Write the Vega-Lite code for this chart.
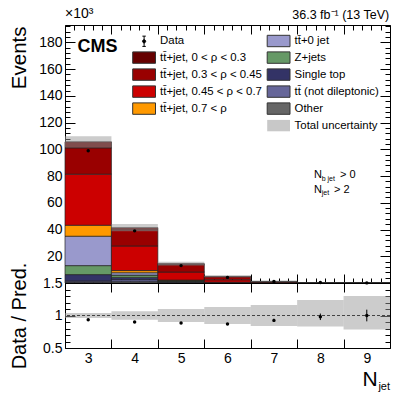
{
  "$schema": "https://vega.github.io/schema/vega-lite/v6.json",
  "autosize": {"type": "pad"},
  "padding": {"left": 8, "top": 6, "right": 0, "bottom": 0},
  "spacing": 0,
  "bounds": "flush",
  "config": {
    "font": "Liberation Sans",
    "view": {"stroke": "#000", "strokeWidth": 1},
    "axis": {"domain": false, "grid": false, "labelFont": "Liberation Sans", "labelFontSize": 14, "labelColor": "#000", "tickColor": "#000", "tickWidth": 1, "titleFont": "Liberation Sans", "titleFontWeight": "normal", "titleColor": "#000", "labelFlush": false, "labelOverlap": false, "labelBound": false, "zindex": 1},
    "text": {"font": "Liberation Sans", "color": "#000"}
  },
  "resolve": {"legend": {"fill": "independent"}},
  "datasets": {
    "stack": [
      {"njet": 3, "comp": "Other", "v": 0.6},
      {"njet": 3, "comp": "tt̄ (not dileptonic)", "v": 0.9},
      {"njet": 3, "comp": "Single top", "v": 4.8},
      {"njet": 3, "comp": "Z+jets", "v": 6.7},
      {"njet": 3, "comp": "tt̄+0 jet", "v": 22.0},
      {"njet": 3, "comp": "tt̄+jet, 0.7 < ρ", "v": 8.2},
      {"njet": 3, "comp": "tt̄+jet, 0.45 < ρ < 0.7", "v": 38.2},
      {"njet": 3, "comp": "tt̄+jet, 0.3 < ρ < 0.45", "v": 19.7},
      {"njet": 3, "comp": "tt̄+jet, 0 < ρ < 0.3", "v": 4.5},
      {"njet": 4, "comp": "Other", "v": 1.0},
      {"njet": 4, "comp": "tt̄ (not dileptonic)", "v": 1.5},
      {"njet": 4, "comp": "Single top", "v": 1.7},
      {"njet": 4, "comp": "Z+jets", "v": 1.7},
      {"njet": 4, "comp": "tt̄+0 jet", "v": 1.8},
      {"njet": 4, "comp": "tt̄+jet, 0.7 < ρ", "v": 1.6},
      {"njet": 4, "comp": "tt̄+jet, 0.45 < ρ < 0.7", "v": 18.4},
      {"njet": 4, "comp": "tt̄+jet, 0.3 < ρ < 0.45", "v": 12.0},
      {"njet": 4, "comp": "tt̄+jet, 0 < ρ < 0.3", "v": 1.7},
      {"njet": 5, "comp": "Other", "v": 0.3},
      {"njet": 5, "comp": "tt̄ (not dileptonic)", "v": 0.5},
      {"njet": 5, "comp": "Single top", "v": 0.4},
      {"njet": 5, "comp": "Z+jets", "v": 0.4},
      {"njet": 5, "comp": "tt̄+0 jet", "v": 0.3},
      {"njet": 5, "comp": "tt̄+jet, 0.7 < ρ", "v": 0.3},
      {"njet": 5, "comp": "tt̄+jet, 0.45 < ρ < 0.7", "v": 6.0},
      {"njet": 5, "comp": "tt̄+jet, 0.3 < ρ < 0.45", "v": 5.5},
      {"njet": 5, "comp": "tt̄+jet, 0 < ρ < 0.3", "v": 0.8},
      {"njet": 6, "comp": "Other", "v": 0.1},
      {"njet": 6, "comp": "tt̄ (not dileptonic)", "v": 0.15},
      {"njet": 6, "comp": "Single top", "v": 0.1},
      {"njet": 6, "comp": "Z+jets", "v": 0.1},
      {"njet": 6, "comp": "tt̄+0 jet", "v": 0.05},
      {"njet": 6, "comp": "tt̄+jet, 0.7 < ρ", "v": 0.1},
      {"njet": 6, "comp": "tt̄+jet, 0.45 < ρ < 0.7", "v": 1.8},
      {"njet": 6, "comp": "tt̄+jet, 0.3 < ρ < 0.45", "v": 2.3},
      {"njet": 6, "comp": "tt̄+jet, 0 < ρ < 0.3", "v": 0.3},
      {"njet": 7, "comp": "Other", "v": 0.03},
      {"njet": 7, "comp": "tt̄ (not dileptonic)", "v": 0.04},
      {"njet": 7, "comp": "Single top", "v": 0.02},
      {"njet": 7, "comp": "Z+jets", "v": 0.02},
      {"njet": 7, "comp": "tt̄+0 jet", "v": 0.01},
      {"njet": 7, "comp": "tt̄+jet, 0.7 < ρ", "v": 0.02},
      {"njet": 7, "comp": "tt̄+jet, 0.45 < ρ < 0.7", "v": 0.42},
      {"njet": 7, "comp": "tt̄+jet, 0.3 < ρ < 0.45", "v": 0.58},
      {"njet": 7, "comp": "tt̄+jet, 0 < ρ < 0.3", "v": 0.08},
      {"njet": 8, "comp": "Other", "v": 0.01},
      {"njet": 8, "comp": "tt̄ (not dileptonic)", "v": 0.01},
      {"njet": 8, "comp": "Single top", "v": 0.005},
      {"njet": 8, "comp": "Z+jets", "v": 0.005},
      {"njet": 8, "comp": "tt̄+0 jet", "v": 0.003},
      {"njet": 8, "comp": "tt̄+jet, 0.7 < ρ", "v": 0.005},
      {"njet": 8, "comp": "tt̄+jet, 0.45 < ρ < 0.7", "v": 0.1},
      {"njet": 8, "comp": "tt̄+jet, 0.3 < ρ < 0.45", "v": 0.15},
      {"njet": 8, "comp": "tt̄+jet, 0 < ρ < 0.3", "v": 0.02},
      {"njet": 9, "comp": "Other", "v": 0.002},
      {"njet": 9, "comp": "tt̄ (not dileptonic)", "v": 0.002},
      {"njet": 9, "comp": "Single top", "v": 0.002},
      {"njet": 9, "comp": "Z+jets", "v": 0.002},
      {"njet": 9, "comp": "tt̄+0 jet", "v": 0.001},
      {"njet": 9, "comp": "tt̄+jet, 0.7 < ρ", "v": 0.002},
      {"njet": 9, "comp": "tt̄+jet, 0.45 < ρ < 0.7", "v": 0.025},
      {"njet": 9, "comp": "tt̄+jet, 0.3 < ρ < 0.45", "v": 0.045},
      {"njet": 9, "comp": "tt̄+jet, 0 < ρ < 0.3", "v": 0.008}
    ],
    "unc": [
      {"njet": 3, "ulo": 101.4, "uhi": 109.8},
      {"njet": 4, "ulo": 38.7, "uhi": 44.1},
      {"njet": 5, "ulo": 13.05, "uhi": 15.95},
      {"njet": 6, "ulo": 4.35, "uhi": 5.65},
      {"njet": 7, "ulo": 1.02, "uhi": 1.42},
      {"njet": 8, "ulo": 0.26, "uhi": 0.38},
      {"njet": 9, "ulo": 0.07, "uhi": 0.117}
    ],
    "obs": [
      {"njet": 3, "d": 98.9},
      {"njet": 4, "d": 39.0},
      {"njet": 5, "d": 13.0},
      {"njet": 6, "d": 4.2},
      {"njet": 7, "d": 1.12},
      {"njet": 8, "d": 0.3},
      {"njet": 9, "d": 0.09}
    ],
    "ratio": [
      {"njet": 3, "r": 0.935, "e": 0.004, "blo": 0.96, "bhi": 1.04},
      {"njet": 4, "r": 0.9, "e": 0.006, "blo": 0.934, "bhi": 1.066},
      {"njet": 5, "r": 0.885, "e": 0.01, "blo": 0.9, "bhi": 1.1},
      {"njet": 6, "r": 0.87, "e": 0.015, "blo": 0.87, "bhi": 1.13},
      {"njet": 7, "r": 0.925, "e": 0.025, "blo": 0.84, "bhi": 1.16},
      {"njet": 8, "r": 0.98, "e": 0.05, "blo": 0.83, "bhi": 1.24},
      {"njet": 9, "r": 1.0, "e": 0.09, "blo": 0.785, "bhi": 1.3}
    ]
  },
  "vconcat": [
    {
      "width": 325,
      "height": 258,
      "resolve": {"axis": {"x": "independent", "y": "independent"}},
      "layer": [
        {
          "data": {"name": "stack"},
          "transform": [
            {"calculate": "datum.njet - 0.5", "as": "lo"},
            {"calculate": "datum.njet + 0.5", "as": "hi"},
            {"calculate": "indexof(['Other','tt̄ (not dileptonic)','Single top','Z+jets','tt̄+0 jet','tt̄+jet, 0.7 < ρ','tt̄+jet, 0.45 < ρ < 0.7','tt̄+jet, 0.3 < ρ < 0.45','tt̄+jet, 0 < ρ < 0.3'], datum.comp)", "as": "ord"},
            {"stack": "v", "groupby": ["njet"], "sort": [{"field": "ord", "order": "ascending"}], "as": ["y0", "y1"]}
          ],
          "mark": {"type": "rect", "stroke": "#222", "strokeWidth": 0.7},
          "encoding": {
            "x": {"field": "lo", "type": "quantitative", "scale": {"domain": [2.5, 9.5], "nice": false, "zero": false},
              "axis": {"orient": "bottom", "values": [2.5,3.5,4.5,5.5,6.5,7.5,8.5,9.5], "labels": false, "title": null, "tickSize": -9}},
            "x2": {"field": "hi"},
            "y": {"field": "y0", "type": "quantitative", "scale": {"domain": [0, 193], "nice": false, "zero": false},
              "axis": {"orient": "left", "values": [20,40,60,80,100,120,140,160,180], "tickSize": -10, "labelPadding": 13,
                "labelExpr": "format(datum.value, 'd')",
                "title": "Events", "titleFontSize": 20.5, "titleX": -46, "titleY": 1, "titleAngle": -90, "titleAlign": "right", "titleBaseline": "middle"}},
            "y2": {"field": "y1"},
            "fill": {"field": "comp", "type": "nominal",
              "scale": {"domain": ["Data", "tt̄+jet, 0 < ρ < 0.3", "tt̄+jet, 0.3 < ρ < 0.45", "tt̄+jet, 0.45 < ρ < 0.7", "tt̄+jet, 0.7 < ρ", " ", "tt̄+0 jet", "Z+jets", "Single top", "tt̄ (not dileptonic)", "Other", "Total uncertainty"],
                "range": ["#000000", "#660000", "#990000", "#cc0000", "#ff9900", "transparent", "#9999cc", "#669966", "#333366", "#666699", "#666666", "#c8c8c8"]},
              "legend": {"orient": "none", "legendX": 72.6, "legendY": 9.1, "columns": 2, "direction": "vertical", "title": null, "padding": 0,
                "labelFont": "Liberation Sans", "labelFontSize": 11.4, "labelColor": "#000", "labelLimit": 300,
                "symbolSize": 130, "symbolType": "M-2,-1H2V1H-2Z", "symbolStrokeColor": "#333", "symbolStrokeWidth": 1, "symbolOpacity": 1,
                "labelOffset": 9.5, "rowPadding": 0, "columnPadding": 2.5,
                "encode": {"symbols": {"update": {
                  "shape": {"signal": "datum.value === 'Data' ? 'M0,-0.9V0.9M-0.3,-0.9H0.3M-0.3,0.9H0.3M-0.28,0A0.28,0.28,0,1,1,0.28,0A0.28,0.28,0,1,1,-0.28,0Z' : datum.value === ' ' ? 'M0,0' : 'M-2,-1H2V1H-2Z'"},
                  "stroke": {"signal": "datum.value === 'Total uncertainty' || datum.value === ' ' ? 'transparent' : datum.value === 'Data' ? '#000' : '#333'"}
                }}}}
            }
          }
        },
        {
          "data": {"name": "unc"},
          "transform": [
            {"calculate": "datum.njet - 0.5", "as": "lo"},
            {"calculate": "datum.njet + 0.5", "as": "hi"}
          ],
          "mark": {"type": "rect", "fill": "#999999", "fillOpacity": 0.5},
          "encoding": {
            "x": {"field": "lo", "type": "quantitative",
              "axis": {"orient": "top", "values": [2.5,3.5,4.5,5.5,6.5,7.5,8.5,9.5], "labels": false, "title": null, "tickSize": -9}},
            "x2": {"field": "hi"},
            "y": {"field": "ulo", "type": "quantitative",
              "axis": {"orient": "right", "values": [20,40,60,80,100,120,140,160,180], "labels": false, "title": null, "tickSize": -10}},
            "y2": {"field": "uhi"}
          }
        },
        {
          "data": {"name": "obs"},
          "mark": {"type": "circle", "size": 12, "color": "#000", "opacity": 1},
          "encoding": {
            "x": {"field": "njet", "type": "quantitative",
              "axis": {"orient": "bottom", "values": [2.7,2.9,3.1,3.3,3.7,3.9,4.1,4.3,4.7,4.9,5.1,5.3,5.7,5.9,6.1,6.3,6.7,6.9,7.1,7.3,7.7,7.9,8.1,8.3,8.7,8.9,9.1,9.3], "labels": false, "title": null, "tickSize": -5}},
            "y": {"field": "d", "type": "quantitative",
              "axis": {"orient": "left", "values": [4,8,12,16,24,28,32,36,44,48,52,56,64,68,72,76,84,88,92,96,104,108,112,116,124,128,132,136,144,148,152,156,164,168,172,176,184,188,192], "labels": false, "title": null, "tickSize": -5}}
          }
        },
        {
          "data": {"values": [{}]},
          "mark": {"type": "text", "text": "CMS", "fontSize": 18, "fontWeight": "bold", "align": "left", "baseline": "alphabetic"},
          "encoding": {
            "x": {"datum": 2.77,
              "axis": {"orient": "top", "values": [2.7,2.9,3.1,3.3,3.7,3.9,4.1,4.3,4.7,4.9,5.1,5.3,5.7,5.9,6.1,6.3,6.7,6.9,7.1,7.3,7.7,7.9,8.1,8.3,8.7,8.9,9.1,9.3], "labels": false, "title": null, "tickSize": -5}},
            "y": {"datum": 172.8,
              "axis": {"orient": "right", "values": [4,8,12,16,24,28,32,36,44,48,52,56,64,68,72,76,84,88,92,96,104,108,112,116,124,128,132,136,144,148,152,156,164,168,172,176,184,188,192], "labels": false, "title": null, "tickSize": -5}}
          }
        },
        {
          "data": {"values": [{}]},
          "mark": {"type": "text", "text": "×10³", "fontSize": 14, "align": "left", "baseline": "alphabetic"},
          "encoding": {"x": {"datum": 2.5, "axis": null}, "y": {"datum": 197.9, "axis": null}}
        },
        {
          "data": {"values": [{}]},
          "mark": {"type": "text", "text": "36.3 fb⁻¹ (13 TeV)", "fontSize": 12.5, "align": "right", "baseline": "alphabetic"},
          "encoding": {"x": {"datum": 9.483, "axis": null}, "y": {"datum": 197.3, "axis": null}}
        },
        {
          "data": {"values": [{}]},
          "mark": {"type": "text", "text": "N", "fontSize": 11, "align": "left", "baseline": "alphabetic"},
          "encoding": {"x": {"datum": 7.863, "axis": null}, "y": {"datum": 78.3, "axis": null}}
        },
        {
          "data": {"values": [{}]},
          "mark": {"type": "text", "text": "b jet", "fontSize": 7, "align": "left", "baseline": "alphabetic"},
          "encoding": {"x": {"datum": 8.029, "axis": null}, "y": {"datum": 76.3, "axis": null}}
        },
        {
          "data": {"values": [{}]},
          "mark": {"type": "text", "text": "> 0", "fontSize": 11, "align": "left", "baseline": "alphabetic"},
          "encoding": {"x": {"datum": 8.423, "axis": null}, "y": {"datum": 78.3, "axis": null}}
        },
        {
          "data": {"values": [{}]},
          "mark": {"type": "text", "text": "N", "fontSize": 11, "align": "left", "baseline": "alphabetic"},
          "encoding": {"x": {"datum": 7.863, "axis": null}, "y": {"datum": 67.55, "axis": null}}
        },
        {
          "data": {"values": [{}]},
          "mark": {"type": "text", "text": "jet", "fontSize": 7, "align": "left", "baseline": "alphabetic"},
          "encoding": {"x": {"datum": 8.029, "axis": null}, "y": {"datum": 65.5, "axis": null}}
        },
        {
          "data": {"values": [{}]},
          "mark": {"type": "text", "text": "> 2", "fontSize": 11, "align": "left", "baseline": "alphabetic"},
          "encoding": {"x": {"datum": 8.294, "axis": null}, "y": {"datum": 67.55, "axis": null}}
        }
      ]
    },
    {
      "width": 325,
      "height": 65,
      "resolve": {"axis": {"x": "independent", "y": "independent"}},
      "layer": [
        {
          "data": {"name": "ratio"},
          "transform": [
            {"calculate": "datum.njet - 0.5", "as": "lo"},
            {"calculate": "datum.njet + 0.5", "as": "hi"}
          ],
          "mark": {"type": "rect", "fill": "#999999", "fillOpacity": 0.5},
          "encoding": {
            "x": {"field": "lo", "type": "quantitative", "scale": {"domain": [2.5, 9.5], "nice": false, "zero": false},
              "axis": {"orient": "bottom", "values": [3,4,5,6,7,8,9], "ticks": false, "labelPadding": 3, "title": null,
                "labelExpr": "format(datum.value, 'd')"}},
            "x2": {"field": "hi"},
            "y": {"field": "blo", "type": "quantitative", "scale": {"domain": [0.5, 1.5], "nice": false, "zero": false},
              "axis": {"orient": "left", "values": [0.5,1,1.5], "tickSize": -10, "labelPadding": 13,
                "labelExpr": "datum.value === 1 ? '1' : format(datum.value, '.1f')",
                "title": "Data / Pred.", "titleFontSize": 20, "titleX": -46, "titleY": 32.5, "titleAngle": -90, "titleAlign": "center", "titleBaseline": "middle"}},
            "y2": {"field": "bhi"}
          }
        },
        {
          "data": {"values": [{}]},
          "mark": {"type": "rule", "strokeDash": [3, 2], "color": "#444", "strokeWidth": 1},
          "encoding": {"y": {"datum": 1, "axis": null}}
        },
        {
          "data": {"name": "ratio"},
          "transform": [
            {"calculate": "datum.r - datum.e", "as": "elo"},
            {"calculate": "datum.r + datum.e", "as": "ehi"}
          ],
          "mark": {"type": "rule", "color": "#000", "strokeWidth": 1},
          "encoding": {
            "x": {"field": "njet", "type": "quantitative",
              "axis": {"orient": "top", "values": [2.5,3.5,4.5,5.5,6.5,7.5,8.5,9.5], "labels": false, "title": null, "tickSize": -9}},
            "y": {"field": "elo", "type": "quantitative",
              "axis": {"orient": "right", "values": [0.5,1,1.5], "labels": false, "title": null, "tickSize": -10}},
            "y2": {"field": "ehi"}
          }
        },
        {
          "data": {"name": "ratio"},
          "mark": {"type": "circle", "size": 12, "color": "#000", "opacity": 1},
          "encoding": {
            "x": {"field": "njet", "type": "quantitative",
              "axis": {"orient": "bottom", "values": [2.5,3.5,4.5,5.5,6.5,7.5,8.5,9.5], "labels": false, "title": null, "tickSize": -9}},
            "y": {"field": "r", "type": "quantitative",
              "axis": {"orient": "right", "values": [0.6,0.7,0.8,0.9,1.1,1.2,1.3,1.4], "labels": false, "title": null, "tickSize": -5}}
          }
        },
        {
          "data": {"values": [{}]},
          "mark": {"type": "text", "text": "N", "fontSize": 21, "align": "right", "baseline": "alphabetic"},
          "encoding": {"x": {"datum": 9.235, "axis": null},
            "y": {"datum": -0.078,
              "axis": {"orient": "left", "values": [0.6,0.7,0.8,0.9,1.1,1.2,1.3,1.4], "labels": false, "title": null, "tickSize": -5}}}
        },
        {
          "data": {"values": [{}]},
          "mark": {"type": "text", "text": "jet", "fontSize": 11, "align": "right", "baseline": "alphabetic"},
          "encoding": {"x": {"datum": 9.5, "axis": null}, "y": {"datum": -0.14, "axis": null}}
        }
      ]
    }
  ]
}
